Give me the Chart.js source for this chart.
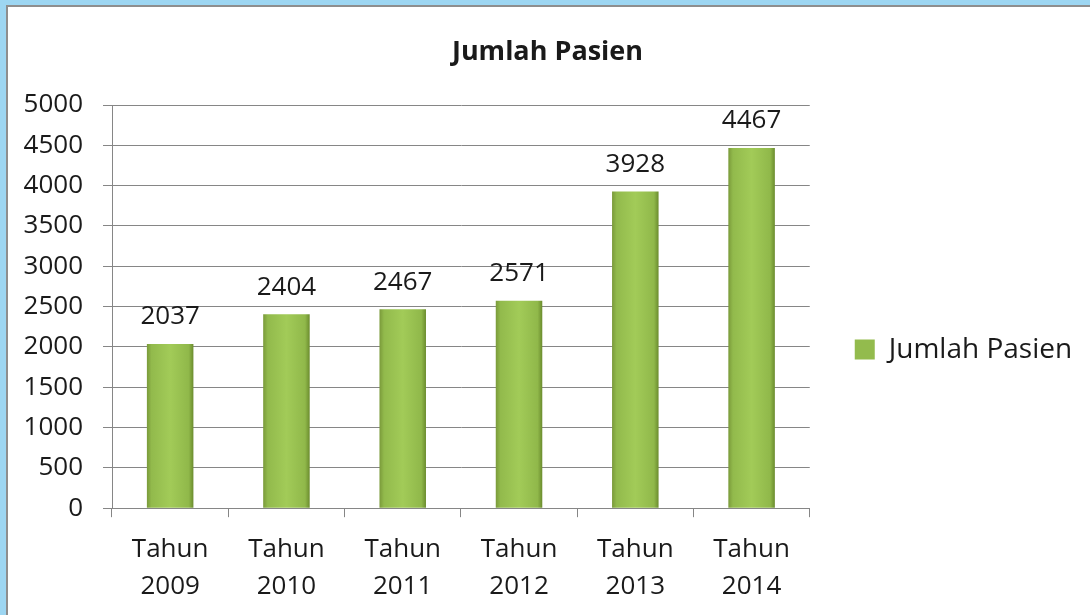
<!DOCTYPE html>
<html>
<head>
<meta charset="utf-8">
<script src="https://cdn.jsdelivr.net/npm/chart.js@4/dist/chart.umd.min.js"></script>
<style>
  html, body { margin: 0; padding: 0; background: #ffffff; }
  #frame { position: absolute; left: 0; top: 0; width: 1090px; height: 615px; background: #9dd6f2; }
  #inner { position: absolute; left: 6px; top: 5px; width: 1084px; height: 610px; background: #8e8e8e; }
  #wrap { position: absolute; left: 8px; top: 7px; width: 1082px; height: 608px; background: #ffffff; }
  canvas { display: block; }
</style>
</head>
<body>
<div id="frame"></div>
<div id="inner"></div>
<div id="wrap"><canvas id="c" width="1082" height="608"></canvas></div>
<script>
const chartTitle = 'Jumlah Pasien';
const seriesName = 'Jumlah Pasien';
const categoryWord = 'Tahun';
const years = ['2009', '2010', '2011', '2012', '2013', '2014'];
const patients = [2037, 2404, 2467, 2571, 3928, 4467];
const yTicks = [0, 500, 1000, 1500, 2000, 2500, 3000, 3500, 4000, 4500, 5000];

const FONT = '"Open Sans", "Liberation Sans", sans-serif';
const TEXT = '#1a1a1a';
const labels = years.map(y => [categoryWord, y]);

function barFill(ctx) {
  const chart = ctx.chart;
  const xs = chart.scales && chart.scales.x;
  if (ctx.dataIndex === undefined || !xs || !chart.chartArea) return '#93bb4d';
  const cx = xs.getPixelForValue(ctx.dataIndex);
  const w = (xs.width / labels.length) * 0.4;
  const g = chart.ctx.createLinearGradient(cx - w / 2, 0, cx + w / 2, 0);
  g.addColorStop(0, '#7a9a3a');
  g.addColorStop(0.1, '#92ba4c');
  g.addColorStop(0.5, '#a2cb58');
  g.addColorStop(0.9, '#90b84a');
  g.addColorStop(1, '#6b8c2e');
  return g;
}

const valueLabels = {
  id: 'valueLabels',
  afterDatasetsDraw(chart) {
    const c = chart.ctx;
    const meta = chart.getDatasetMeta(0);
    c.save();
    c.font = '26px ' + FONT;
    c.fillStyle = TEXT;
    c.textAlign = 'center';
    c.textBaseline = 'middle';
    meta.data.forEach((el, i) => {
      c.fillText(String(chart.data.datasets[0].data[i]), el.x, el.y - 27);
    });
    c.restore();
  }
};

new Chart(document.getElementById('c'), {
  type: 'bar',
  data: {
    labels: labels,
    datasets: [{
      label: seriesName,
      data: patients,
      backgroundColor: barFill,
      borderWidth: 0,
      categoryPercentage: 1,
      barPercentage: 0.4
    }]
  },
  options: {
    responsive: false,
    animation: false,
    layout: { padding: { left: 15, right: 18, bottom: -4, top: 0 } },
    plugins: {
      title: {
        display: true,
        text: chartTitle,
        color: TEXT,
        font: { family: FONT, size: 27, weight: 'bold' },
        padding: { top: 29, bottom: 36.6 }
      },
      legend: {
        position: 'right',
        title: { display: true, text: ' ', font: { size: 1 }, padding: 36 },
        labels: {
          color: TEXT,
          font: { family: FONT, size: 28 },
          boxWidth: 20,
          boxHeight: 20,
          padding: 45,
          generateLabels(chart) {
            return [{ text: seriesName, fillStyle: '#93bb4d', strokeStyle: '#93bb4d', fontColor: TEXT, lineWidth: 0, datasetIndex: 0 }];
          }
        }
      },
      tooltip: { enabled: false }
    },
    scales: {
      x: {
        grid: { display: true, drawOnChartArea: false, drawTicks: true, tickLength: 9, color: '#868686' },
        border: { display: true, color: '#868686', width: 1 },
        ticks: { color: TEXT, font: { family: FONT, size: 26, lineHeight: 1.42 }, padding: 14, maxRotation: 0 }
      },
      y: {
        min: 0,
        max: 5000,
        afterBuildTicks(axis) { axis.ticks = yTicks.map(v => ({ value: v })); },
        afterFit(axis) { axis.width = 89; },
        grid: { color: '#868686', tickLength: 9, drawTicks: true },
        border: { display: true, color: '#868686', width: 1 },
        ticks: { color: TEXT, font: { family: FONT, size: 26 }, padding: 20, callback: v => String(v) }
      }
    }
  },
  plugins: [valueLabels]
});
</script>
</body>
</html>
